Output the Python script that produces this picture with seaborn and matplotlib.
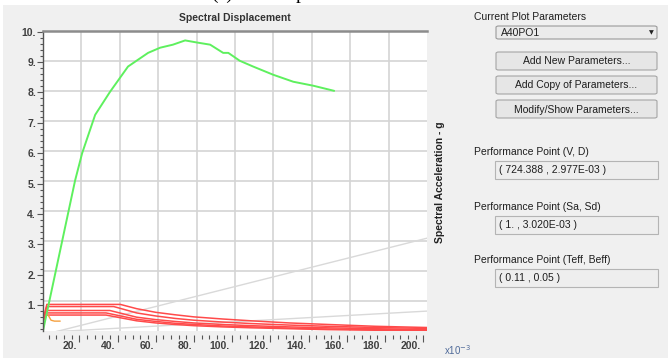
import numpy as np
import pandas as pd
import matplotlib
matplotlib.use('Agg')
import matplotlib.pyplot as plt
import matplotlib.patches as mpatches
import matplotlib.transforms as mtransforms
from matplotlib.ticker import MultipleLocator, FuncFormatter
import seaborn as sns

# capacity curve (green), Sd in 1e-3, Sa in g
cap_sd = [1.0, 17.8, 21.5, 28.3, 36.1, 45.5, 56.0, 62.3, 69.0, 75.4, 81.7, 88.5,
          95.3, 98.0, 104.0, 111.0, 121.5, 132.0, 142.4, 153.4]
cap_sa = [0.15, 5.1, 6.0, 7.26, 8.02, 8.85, 9.3, 9.47, 9.57, 9.71, 9.64, 9.57,
          9.3, 9.3, 9.04, 8.85, 8.58, 8.35, 8.22, 8.05]

# demand spectra (red), one list per damping level
dem_sd = [0.8, 3.0, 41.5, 50, 60, 70, 80, 95, 110, 130, 150, 175, 202]
dem_sd2 = [0.8, 3.0, 38.0, 50, 60, 70, 80, 95, 110, 130, 150, 175, 202]
dem_sd3 = [0.8, 3.0, 36.0, 50, 60, 70, 80, 95, 110, 130, 150, 175, 202]
dem_sd4 = [0.8, 3.0, 34.0, 50, 60, 70, 80, 95, 110, 130, 150, 175, 202]
dem_sa1 = [0.45, 1.02, 1.02, 0.88, 0.76, 0.68, 0.61, 0.54, 0.48, 0.41, 0.36, 0.30, 0.26]
dem_sa2 = [0.45, 0.95, 0.95, 0.74, 0.64, 0.56, 0.50, 0.44, 0.39, 0.34, 0.30, 0.26, 0.23]
dem_sa3 = [0.45, 0.82, 0.82, 0.60, 0.52, 0.46, 0.41, 0.36, 0.32, 0.28, 0.25, 0.22, 0.19]
dem_sa4 = [0.45, 0.74, 0.74, 0.53, 0.46, 0.40, 0.36, 0.31, 0.28, 0.24, 0.21, 0.19, 0.17]
dem_sa5 = [0.45, 0.67, 0.67, 0.48, 0.41, 0.36, 0.32, 0.28, 0.25, 0.22, 0.19, 0.17, 0.15]

# orange short curve
or_sd = [3.7, 5.2, 7.0, 10.0]
or_sa = [0.67, 0.50, 0.47, 0.47]

# grey period lines
g1_sd = [0.0, 202.0]
g1_sa = [0.0, 3.2]
g2_sd = [1.0, 202.0]
g2_sa = [0.10, 0.80]

panel_labels = ['Current Plot Parameters', 'Performance Point (V, D)',
                'Performance Point (Sa, Sd)', 'Performance Point (Teff, Beff)']
panel_values = ['( 724.388 , 2.977E-03 )', '( 1. , 3.020E-03 )', '( 0.11 , 0.05 )']
buttons = ['Add New Parameters...', 'Add Copy of Parameters...', 'Modify/Show Parameters...']
combo_value = 'A40PO1'

sns.set_style('white')
plt.rcParams['font.family'] = ['Liberation Sans', 'DejaVu Sans']

W, H = 668, 358
fig = plt.figure(figsize=(W / 100, H / 100), dpi=100, facecolor='white')

def fx(px):
    return px / W

def fy(py):
    return 1 - py / H

# grey window background
fig.add_artist(mpatches.Rectangle((fx(3), 0), 1, fy(5), transform=fig.transFigure,
                                  fc='#f0f0f0', ec='none', zorder=0))
# cut-off caption above the window
fig.text(fx(211), fy(-1), '(c)', family='Liberation Serif', fontsize=14,
         va='baseline', ha='left', color='black')
fig.text(fx(296), fy(-1), 'p', family='Liberation Serif', fontsize=14,
         va='baseline', ha='left', color='black')

ax = fig.add_axes([fx(43), fy(331), fx(427) - fx(43), fy(31) - fy(331)])
ax.set_facecolor('white')

# evenly spaced plot grid (not tied to tick values)
for i in range(1, 10):
    ax.plot([i / 10, i / 10], [0, 1], transform=ax.transAxes, color='#d4d4d4', lw=1.2, zorder=1)
    ax.plot([0, 1], [i / 10, i / 10], transform=ax.transAxes, color='#d4d4d4', lw=1.2, zorder=1)

line_kw = dict(estimator=None, sort=False, ax=ax, legend=False)
sns.lineplot(x=g1_sd, y=g1_sa, color='#d9d9d9', lw=1.0, **line_kw)
sns.lineplot(x=g2_sd, y=g2_sa, color='#d9d9d9', lw=1.0, **line_kw)
sns.lineplot(x=dem_sd, y=dem_sa1, color='#ff4a4a', lw=1.1, **line_kw)
sns.lineplot(x=dem_sd2, y=dem_sa2, color='#ff4a4a', lw=1.1, **line_kw)
sns.lineplot(x=dem_sd3, y=dem_sa3, color='#ff4a4a', lw=1.1, **line_kw)
sns.lineplot(x=dem_sd4, y=dem_sa4, color='#ff4a4a', lw=1.1, **line_kw)
sns.lineplot(x=dem_sd4, y=dem_sa5, color='#ff4a4a', lw=1.1, **line_kw)
sns.lineplot(x=or_sd, y=or_sa, color='#f5a040', lw=1.0, **line_kw)
sns.lineplot(x=cap_sd, y=cap_sa, color='#5ef05e', lw=1.4, **line_kw)

ax.set_xlim(1, 202)
ax.set_ylim(0.145, 10.02)
ax.set_xlabel('')
ax.set_ylabel('')

fmt = FuncFormatter(lambda v, p: f'{v:.0f}.')
ax.xaxis.set_major_locator(MultipleLocator(20))
ax.xaxis.set_minor_locator(MultipleLocator(4))
ax.yaxis.set_major_locator(MultipleLocator(1))
ax.yaxis.set_minor_locator(MultipleLocator(0.2))
ax.yaxis.set_major_formatter(fmt)

ax.tick_params(axis='both', which='both', direction='out', color='#555555', width=0.8,
               labelsize=7.5, labelcolor='#404040')
ax.tick_params(axis='x', which='major', length=5, labelbottom=False)
ax.tick_params(axis='x', which='minor', length=3)
ax.tick_params(axis='y', which='major', length=4, pad=1)
ax.tick_params(axis='y', which='minor', length=2.5)
ax.tick_params(left=True, bottom=True, which='both')
for lab in ax.get_yticklabels():
    lab.set_fontweight('bold')

# x tick labels sit to the left of their tick, as in the original program
lab_tr = ax.get_xaxis_transform() + mtransforms.ScaledTranslation(-1.5 / 72, -7.5 / 72, fig.dpi_scale_trans)
for v in ax.get_xticks():
    if 1 <= v <= 202:
        ax.text(v, 0, fmt(v, None), transform=lab_tr, ha='right', va='top', fontsize=7.5,
                fontweight='bold', color='#404040', clip_on=False)

ax.spines['bottom'].set_position(('outward', 3))
ax.spines['bottom'].set_visible(False)
ax.spines['right'].set_visible(False)
ax.spines['left'].set_color('#555555')
ax.spines['left'].set_linewidth(1.0)
ax.spines['top'].set_color('#8c8c8c')
ax.spines['top'].set_linewidth(1.8)

fig.text(fx(235), fy(18), 'Spectral Displacement', ha='center', va='center',
         fontsize=7.5, fontweight='bold', color='#333333')
fig.text(fx(440), fy(182), 'Spectral Acceleration - g', ha='center', va='center',
         rotation=90, fontsize=7.5, fontweight='bold', color='#222222')
fig.text(fx(444), fy(350), r'x10$^{-3}$', ha='left', va='center', fontsize=7,
         color='#4f6a99')

# right-hand parameter panel
def rect(x0, y0, x1, y1, fc, ec, rounded=False):
    if rounded:
        p = mpatches.FancyBboxPatch((fx(x0), fy(y1)), fx(x1) - fx(x0), fy(y0) - fy(y1),
                                    boxstyle='round,pad=0,rounding_size=0.004',
                                    transform=fig.transFigure, fc=fc, ec=ec, lw=0.8)
    else:
        p = mpatches.Rectangle((fx(x0), fy(y1)), fx(x1) - fx(x0), fy(y0) - fy(y1),
                               transform=fig.transFigure, fc=fc, ec=ec, lw=0.8)
    fig.add_artist(p)

txt = dict(fontsize=7.5, color='#1e1e1e', va='center')

fig.text(fx(474), fy(17), panel_labels[0], ha='left', **txt)
rect(496, 26, 657, 39, '#ebebeb', '#9a9a9a', rounded=True)
fig.text(fx(501), fy(32.5), combo_value, ha='left', **txt)
fig.text(fx(651), fy(33), '\u25bc', ha='center', va='center', fontsize=4.5, color='#222222',
         family='DejaVu Sans')

for i, b in enumerate(buttons):
    top = 52 + i * 24
    rect(496, top, 657, top + 18, '#e6e6e6', '#a5a5a5', rounded=True)
    fig.text(fx(576.5), fy(top + 9.5), b, ha='center', **txt)

for i, (lab, val) in enumerate(zip(panel_labels[1:], panel_values)):
    ly = [152, 207, 260][i]
    fig.text(fx(474), fy(ly), lab, ha='left', **txt)
    rect(495, ly + 9, 658, ly + 27, '#eeeeee', '#b4b4b4')
    fig.text(fx(499), fy(ly + 18), val, ha='left', **txt)

fig.savefig('out.png', dpi=100, facecolor=fig.get_facecolor())
